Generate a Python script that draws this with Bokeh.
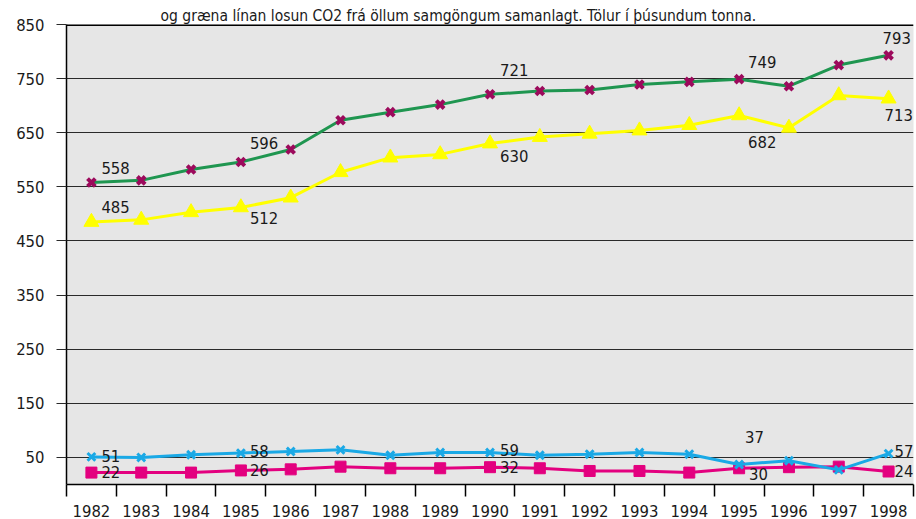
from bokeh.plotting import figure
from bokeh.models import FixedTicker, Span, Title, ColumnDataSource, Range1d
from bokeh.core.properties import value
from bokeh.embed import file_html
from bokeh.resources import INLINE

# ---- data ----
years = [1982, 1983, 1984, 1985, 1986, 1987, 1988, 1989, 1990,
         1991, 1992, 1993, 1994, 1995, 1996, 1997, 1998]
total = [558, 562, 582, 596, 619, 673, 688, 702, 721, 727, 729, 739, 744, 749, 736, 775, 793]
road = [485, 489, 503, 512, 530, 577, 604, 610, 630, 642, 648, 654, 664, 682, 659, 719, 713]
sea = [51, 50, 55, 58, 61, 64, 54, 59, 59, 54, 56, 59, 56, 37, 44, 27, 57]
air = [22, 22, 22, 26, 28, 33, 30, 30, 32, 30, 25, 25, 22, 30, 32, 33, 24]
y_ticks = [50, 150, 250, 350, 450, 550, 650, 750, 850]
title_text = "og græna línan losun CO2 frá öllum samgöngum samanlagt. Tölur í þúsundum tonna."
labelled = [0, 3, 8, 13, 16]

# label offsets (pixels) for the value annotations
total_off = [(10, -15), (9, -19), (10, -24), (9, -17), (-6, -17)]
road_off = [(10, -15), (9, 11), (10, 12), (9, 27), (-4, 16)]
sea_off = [(10, -1), (9, -2), (10, -3), (6, -27), (6, -3)]
air_off = [(10, -1), (9, 0), (10, 0), (10, 6), (6, -1)]

FONT = "DejaVu Sans Condensed, Liberation Sans Narrow, sans-serif"
TXT = "#1a1a1a"
FS = "16.5px"

p = figure(width=916, height=519, output_backend="svg", toolbar_location=None,
           x_range=Range1d(years[0] - 0.5, years[-1] + 0.5),
           y_range=Range1d(0, y_ticks[-1]),
           min_border_left=66, min_border_right=3, min_border_top=24, min_border_bottom=27)
p.background_fill_color = "#e6e6e6"
p.border_fill_color = "white"
p.outline_line_color = None

# title (left-anchored so that it sits centred on the page)
p.title = Title(text=title_text, align="left", offset=94, standoff=0,
                text_font=FONT, text_font_size="15.5px", text_font_style="normal",
                text_color=TXT)

# grid
p.xgrid.visible = False
p.ygrid.ticker = FixedTicker(ticks=y_ticks)
p.ygrid.grid_line_color = "#2a2a2a"
p.ygrid.grid_line_width = 1.2
p.add_layout(Span(location=y_ticks[-1], dimension="width", line_color="black", line_width=3))

# y axis
ya = p.yaxis[0]
ya.ticker = FixedTicker(ticks=y_ticks)
ya.major_tick_out = 10
ya.major_tick_in = 0
ya.minor_tick_out = 0
ya.minor_tick_in = 0
ya.major_tick_line_color = "#2a2a2a"
ya.major_tick_line_width = 1.2
ya.axis_line_color = "black"
ya.axis_line_width = 1.5
ya.major_label_text_font = FONT
ya.major_label_text_font_size = FS
ya.major_label_text_color = TXT
ya.major_label_standoff = 12

# x axis
xa = p.xaxis[0]
bounds = [y - 0.5 for y in years] + [years[-1] + 0.5]
xa.ticker = FixedTicker(ticks=years, minor_ticks=bounds)
xa.major_label_overrides = {y: str(y) for y in years}
xa.major_tick_out = 0
xa.major_tick_in = 0
xa.minor_tick_out = 12
xa.minor_tick_in = 0
xa.minor_tick_line_color = "black"
xa.minor_tick_line_width = 1.5
xa.axis_line_color = "black"
xa.axis_line_width = 1.5
xa.major_label_text_font = FONT
xa.major_label_text_font_size = FS
xa.major_label_text_color = TXT
xa.major_label_standoff = 8

# series
p.line(years, total, line_color="#1f9650", line_width=3)
p.scatter(years, total, marker="x", size=11, line_color="#9c0a5c", line_width=4)

p.line(years, road, line_color="#ffff00", line_width=3)
p.scatter(years, road, marker="triangle", size=15, fill_color="#ffff00", line_color="#ffff00")

p.line(years, air, line_color="#e3007f", line_width=3)
p.scatter(years, air, marker="square", size=11, fill_color="#e3007f", line_color="#e3007f")

p.line(years, sea, line_color="#1aa9e6", line_width=3)
p.scatter(years, sea, marker="x", size=11, line_color="#1aa9e6", line_width=3)

# value labels
for series, offs in [(total, total_off), (road, road_off), (sea, sea_off), (air, air_off)]:
    src = ColumnDataSource(dict(
        x=[years[i] for i in labelled],
        y=[series[i] for i in labelled],
        t=[str(series[i]) for i in labelled],
        dx=[o[0] for o in offs],
        dy=[o[1] for o in offs],
    ))
    p.text(x="x", y="y", text="t", x_offset="dx", y_offset="dy", source=src,
           text_font=value(FONT), text_font_size=FS, text_color=TXT,
           text_align="left", text_baseline="middle")

open("out.html", "w").write(file_html(p, INLINE))
